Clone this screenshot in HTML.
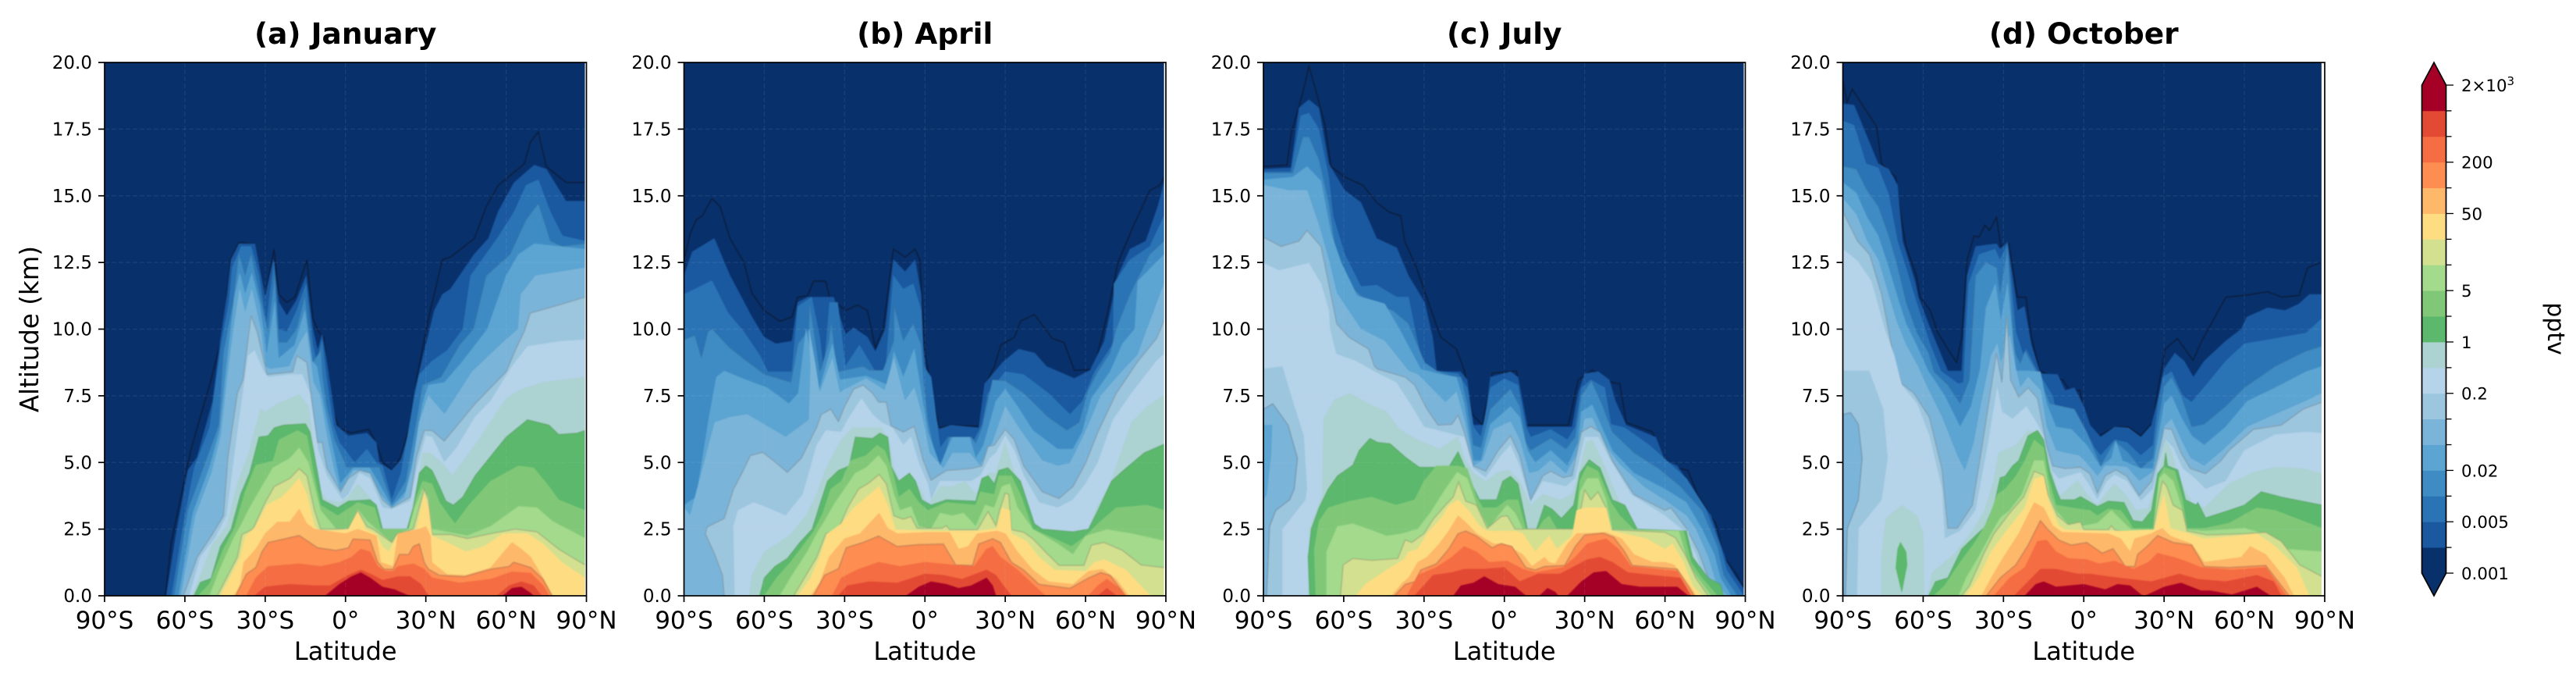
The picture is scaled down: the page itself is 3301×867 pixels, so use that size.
<!DOCTYPE html>
<html lang="en">
<head>
<meta charset="utf-8">
<title>Monthly zonal mean mixing ratio cross-sections</title>
<style>
html,body{margin:0;padding:0;background:#fff;width:3301px;height:867px;overflow:hidden}
svg{display:block}
text{font-family:"DejaVu Sans","Liberation Sans",sans-serif;fill:#000}
</style>
</head>
<body>
<svg id="figure" xmlns="http://www.w3.org/2000/svg" width="3301" height="867" viewBox="0 0 3301 867"></svg>
<script>
const levelColors = ['#08306b','#1a589f','#2a74b5','#3f8cc5','#5ca4d1','#7bb4d9','#9cc6de','#b5d3e9','#acd2d2','#5cb86c','#80c878','#a3da8b','#d3e08f','#fedc82','#fdb869','#fd8d50','#f46d43','#e34a33','#a50026'];
const panelTitles = ['(a) January','(b) April','(c) July','(d) October'];
const latTicks = [-90,-60,-30,0,30,60,90];
const latLabels = ['90°S','60°S','30°S','0°','30°N','60°N','90°N'];
const altTicks = [0,2.5,5,7.5,10,12.5,15,17.5,20];
const altLabels = ['0.0','2.5','5.0','7.5','10.0','12.5','15.0','17.5','20.0'];
const barLevelCount = 20;
const barLabelIndex = [0,2,4,7,9,11,14,16,19];
const barLabels = ['0.001','0.005','0.02','0.2','1','5','50','200','2×10'];
const dataRightLat = [89.4,89.3,89.4,88.8];

const januaryContours = [
[0,[-67.3,0,-65.1,2,-57.7,5.5,-50.2,8.1,-45.7,9.9,-43,12.6,-39.8,13.25,-33.8,13.2,-30,11.2,-26.7,13,-24.9,11.3,-21.9,11,-18.9,11.2,-14.4,12.6,-12.2,10.4,-10,9.9,-8.2,9.7,-4.8,7,-2.5,6.3,2,6.1,8.7,6.25,11.6,5.7,13.9,5,17.6,4.7,20.6,5.2,24.3,6.5,26.5,8.1,31,10.4,36.2,12.6,39.2,12.7,48.1,13.4,52.6,14.6,57.1,15.4,66.8,16.2,69,17,72,17.4,75,16.1,82.4,15.5,89.5,15.5]],
[1,[-66.9,0,-63.5,2.2,-58.9,4.7,-55.4,5.2,-49.6,7.3,-46.7,9.6,-44.2,11.3,-42.8,12.6,-39.8,13.2,-33.8,13.2,-30,11.2,-27,12.6,-24.9,11,-21.9,10.5,-18.2,11.1,-14.7,12,-12.2,10,-10.4,9.2,-8.7,9.8,-7,8.8,-3.5,6.4,1.1,6,8,6.1,11.5,5.75,12.6,5,17.3,4.7,20.7,5.1,23.6,6.1,25.9,7.7,31,9.8,33.2,10.7,36.2,11.3,39.2,11.5,48,12.8,53.4,13.4,57,14.4,63,15.5,70.5,16.15,75,16,82.4,14.8,89.5,14.8]],
[2,[-65,0,-60,3,-56.5,4.8,-50.8,6.3,-46.2,9.6,-43.5,11,-42.3,12.3,-39,13.1,-35.3,13.1,-32.3,12,-29.6,10.2,-26.7,12.5,-25,10,-21.9,9.9,-18.2,10.7,-14.7,11.7,-12.2,9.4,-10.7,8.75,-8.8,9.6,-7,8.1,-4.6,6.4,-2.3,5.75,3.4,5,8,5.5,11.5,5,13.8,4.87,17.3,3.6,20.7,4.6,23,5.9,25.3,7.2,27.6,8.3,32.3,8.8,38,9.2,43.8,10,46.7,12,57,13.45,63,14.4,67.5,15.4,72,15.6,76.5,14.4,81,13.5,89.5,13.3]],
[3,[-64,0,-58.9,3.2,-52,5.1,-47.3,6.4,-45.6,9.1,-42,11,-39.8,12.8,-37.5,12,-35.3,12.8,-30.8,10.7,-29,9.9,-26.4,12,-25,9.5,-21.9,9.5,-18.2,10,-15.2,11.2,-12.2,8.75,-9.2,9.2,-8.7,8.3,-7,7.1,-4.1,5.85,-.6,5.07,0,4.82,12.6,4.82,17.3,3.45,22.5,4.3,25.3,5.85,28.8,7.9,35.7,8.2,42.6,9.4,47.8,10,52.6,12,61.5,12.8,67.5,14.1,72,14.7,76.5,13.3,81,13.1,89.5,13.2]],
[4,[-62.3,0,-57,3.1,-50.5,4.9,-47,6.2,-44,9,-41.5,11.2,-39.5,12.1,-37.5,11.3,-35,12.1,-32,10.9,-30.6,9.9,-29.5,9,-26.4,11,-25,8.9,-19,9.4,-15.2,10.7,-12.5,8.8,-10.7,8.6,-9.3,7.8,-7,6.6,-4,5.2,-2,4.2,3,4.8,9,4.8,12,4.3,17.3,3.35,22.5,3.9,25.3,5.15,28.8,7.2,31,7.9,37,8,43.8,8.8,53,10,60,12,64.6,12.8,70.5,13.2,89.5,13]],
[5,[-61.5,0,-56,3,-50,4.6,-46.5,6,-43.5,8.7,-41.5,10.2,-39.5,11.5,-37.5,10.6,-35,11.5,-31.5,9.9,-30,8.6,-28,8.5,-21,8.6,-17,9.5,-14.5,9.9,-12,8,-9.5,7.5,-7,6,-4.5,4.8,-2,3.9,1,4.4,3,4.7,6,4.7,10,4.4,13,3.8,17.3,3.3,22,3.7,25,4.8,27.5,6.5,31,7.5,37,6.8,47.3,8.4,58.8,9.5,64.5,10,65.5,11.3,71,12,89.5,12.3]],
[6,[-60.5,0,-55.4,1.45,-49.6,2.33,-45.6,3,-43.9,5.2,-40.4,7.6,-38.3,8.1,-35.3,10.5,-33,9.9,-29.3,8.3,-19.7,8.4,-18.2,9,-14.4,8.75,-13.9,8.3,-11.6,6.6,-10.4,5.75,-8.7,5.75,-7,4.8,-1.8,3.9,1.1,4.4,5.2,4.7,9.2,4.6,13.8,3.6,17.3,3.3,24.2,3.7,26.5,5.2,29.4,6.2,32.3,6.2,36.9,5.8,48.4,7.2,60,8.4,63.4,9.2,66.9,9.95,69,10.6,79.5,10.9,89.5,11.2]],
[7,[-58.3,0,-54.2,1.45,-48.5,2.2,-44.4,3,-40.4,6.1,-36.4,9,-34,9.2,-30.6,8.4,-28.9,8.2,-20,8.3,-16.2,8.3,-13.3,7.6,-10.4,5.5,-7,4.5,-1.2,3.6,1.1,3.8,5.2,4.6,9.2,4.4,13.8,3.3,17.3,3.25,24.2,3.55,27,4.9,30,6,32.3,5.95,36.9,5,41.5,5.55,48.4,6.7,54.2,7.3,62.2,8.6,68,9.35,80.7,9.55,89.5,9.6]],
[8,[-57.2,0,-49.6,1.95,-44.4,2.6,-40.4,4.2,-35.8,5.45,-31.8,7,-30,6.9,-25.4,7.2,-17.3,7.55,-13.9,7.1,-11.6,5.45,-9.8,4,-7,3.6,-2.3,3.5,1.1,3.7,4.6,4.2,8,3.8,12.6,3.2,13.8,2.5,23,2.5,26.5,4,28.8,5.35,31.7,5.35,36.9,4.9,39.8,4.5,48.4,5.65,60,7.4,64.6,7.7,73.8,8,89.5,8.2]],
[9,[-56.6,0,-54.2,.5,-50.2,.65,-46.7,1.85,-42.7,2.5,-39.2,3.8,-35.8,4.6,-32.3,5.95,-28.9,6,-26.6,6.3,-23.1,6.4,-15,6.45,-13.3,6.15,-10.4,4.6,-8.7,3.6,-2.9,3.3,1.1,3.55,9.2,3.6,11.5,3.4,13.8,2.5,23,2.5,25.3,3.3,27.6,4.6,30,4.87,32.3,4.7,35.1,4.1,37.5,3.55,40.3,3.4,43.8,3.7,48.4,4.5,60,5.95,68,6.6,76,6.4,79.6,6.05,86.5,6.1,89.5,6.2]],
[10,[-55,0,-50.8,.45,-45.6,1.75,-41.6,2.5,-37.5,3.9,-33.5,4.9,-27.1,5.05,-24.8,5.85,-17.9,6.2,-14.4,6,-12.1,4.7,-9.3,3.4,-2.9,3,4.6,3.5,10.9,3.3,13.2,2.5,23.6,2.5,26.5,3.7,28.8,4.3,32.3,4.2,35.1,3.5,38.6,3,40.9,2.7,46.1,3.4,54.2,4.3,64.6,4.87,70.3,4.8,76,4.1,79.6,3.6,89.5,3.2]],
[11,[-50.8,0,-46.7,1.05,-41.6,2.2,-39.3,2.6,-35.8,3.3,-31.2,4.1,-27.1,4.8,-20.8,5.15,-17.3,5.55,-13.9,5,-11.6,4.1,-9.3,3.2,-3.5,2.5,1.1,2.5,4.6,3.25,8,2.8,11.5,2.5,17.3,2,19.6,2.3,23.6,2.5,25.9,3.3,28.8,4,31,3.7,32.3,2.5,45.5,2.25,54.2,2.6,64.6,3.35,71.5,3.3,77.2,2.8,89.5,2.15]],
[12,[-47.9,0,-43.9,.77,-40.4,1.45,-38.7,2.3,-34.6,2.5,-30,3.5,-26.6,4.1,-20.8,4.4,-17.3,4.77,-14.4,4.5,-11.6,3.2,-9.3,2.5,1.1,2.5,4.6,3.2,8,2.6,10.3,2.5,17.3,2,19,2.3,25.3,2.5,29.4,4,31,3.6,32.3,2.3,39.2,2.3,45.5,2.15,54.2,2.33,63.4,2.5,71.5,2.4,79.6,1.75,89.5,1.15]],
[13,[-46.7,0,-42.7,.77,-39.3,1.45,-37.5,2.2,-33.5,2.6,-29.4,3.4,-23.7,3.7,-20.8,4,-17.3,4.4,-14.4,3.8,-11.6,2.6,-9.3,2.4,1.1,2.5,4.6,3.15,7.5,2.5,11.5,2.3,13.8,1.85,16.1,1.65,19.6,2.3,26.5,2.5,29.4,3.8,31,3.3,32.3,2.25,38,2,45,1.65,51.9,1.85,58.8,2.33,68,2.33,73.8,1.95,80.7,1.26,89.5,.67]],
[14,[-41.6,0,-39.3,.4,-38,1.25,-33.5,1.75,-30,2.33,-25.4,2.77,-20.8,2.77,-17.3,3.25,-14.4,2.7,-11.6,2.5,0,2.33,4.6,2.5,11.5,2.25,13.2,1.25,17.8,1.1,19.6,2.33,27.6,2.5,30,2.6,31.7,2.25,32.3,1.25,38,.8,45,.77,54.2,1.05,60,1.75,62.2,2,65.7,1.75,69.2,1.45,73.8,.67,77.2,0]],
[15,[-41,0,-37,.82,-33.5,1.06,-31.2,1.65,-28.9,2,-23.1,2.13,-17.3,2.26,-10.4,1.8,-3.5,1.7,1.1,1.8,2.8,2.13,9.2,2.09,12,1.26,14.4,1,17.8,1,20.1,1.55,23.6,1.55,25.3,1.85,27.6,1.95,29.4,1.26,31,1,35.1,.77,44.4,.72,54.2,1,61.1,1.1,62.8,1.26,69.2,1.06,73.8,.62,77.2,0]],
[16,[-37,0,-33.5,.67,-28.9,1.1,-17.3,1.2,-9.3,1.1,-2.3,1.25,2.3,1.45,5.7,1.75,9.2,1.65,12,1.1,15,.92,17.8,.92,19.6,1.1,25.3,1.2,29.4,1,32.3,.67,42.6,.48,54.2,.62,62.2,.9,69.2,.85,73.8,.38,76.1,0]],
[17,[-34,0,-30,.33,-20.8,.43,-11.6,.38,-5.8,.38,1.1,.77,5.7,.97,10.3,.77,13.8,.58,19.6,.72,24.2,.72,28.2,.43,31,0]],
[17,[56.5,0,61.1,.38,65.7,.53,70.3,.38,73.2,0]],
[18,[-7.5,0,-2.3,.43,2.3,.72,5.7,.87,9.2,.67,13.8,.33,18.4,.23,23.6,0]],
[18,[58.8,0,62.2,.28,65.7,.33,68.6,.14,70.3,0]]
];

const aprilContours = [
[0,[-90,12.6,-87.6,13.6,-85.4,14.1,-83.2,14.25,-79.5,14.9,-76.5,14.6,-72.8,13.4,-67.6,12.5,-64.6,11.35,-60.1,10.7,-54.2,10.3,-49.7,10.45,-47.5,11.2,-43.8,11.25,-41.6,11.8,-37.1,11.8,-35.6,11.2,-29.7,10.7,-25.2,10.9,-21.5,10.7,-18.5,9.3,-15.6,10,-11.8,13,-7.4,12.7,-3.7,13,-1.9,12.6,0,9.1,2.3,7.8,5.2,6.3,9.7,6.4,20.1,6.35,23,8,26,8.6,28.3,9.4,33.5,9.7,35.7,10.3,40.9,10.55,47.6,9.65,52,9.5,55.8,8.45,63.2,8.5,68.4,10.7,72.1,12.5,78,13.9,84,15.2,87.7,15.4,89.4,15.7]],
[1,[-90,12,-86.9,12.9,-78.7,13.4,-72.8,12,-64.6,10.45,-60.1,9.7,-55.7,9.45,-49.7,9.55,-47.5,11,-43.8,11.2,-41.6,11.2,-38.6,11.2,-34.1,11.2,-29.7,9.8,-26.7,10.05,-21.5,9.7,-18.5,9.15,-14.8,10,-11.8,12.6,-7.4,12.15,-3.7,12.6,-1.4,11.3,-.7,9.4,.8,8.1,5.2,6.25,9.7,6.4,20.1,6.3,22.3,7.95,29,8.75,35,9.25,41,9.1,45.4,8.6,55.8,8.15,61.7,8.45,67,9.55,72.1,12,76.6,13,82.5,13.3,87,14.6,89.4,15.5]],
[2,[-90,11.3,-80,11.8,-79.5,11.8,-73.5,10.6,-67.6,9.9,-61.6,9,-58.7,8.4,-49.7,8.4,-47.5,10.85,-42.3,11.2,-39.3,9.7,-37.8,8.4,-35.6,11,-32.6,11,-29.7,8.6,-24.5,9.4,-18.5,8.4,-14.8,8.4,-11.8,12,-8.1,11.5,-4.4,11.7,-1.4,10.7,-.4,8.6,2.3,8.2,5.7,5.55,8.6,5.95,18.4,5.85,21.3,6.4,23.6,7.6,30,8.4,36.9,8.3,46.1,7.6,54.2,6.8,58.8,7.3,63.4,8.4,70.3,9.45,70.6,11.7,76.6,12.6,84,13.1,89.4,14.25]],
[3,[-90,9.6,-86,9.75,-83.5,8.9,-81,9.9,-79.5,10,-73,9.3,-68,8.9,-60,8.3,-50,8,-47.3,9.45,-43.3,10,-43,10.85,-40.8,9.4,-39.3,8.4,-38.7,8.5,-35.8,9.55,-35,10.2,-33.4,8.9,-32.3,8.4,-23.1,8.6,-20.8,8.45,-15.6,8.45,-11.6,9.55,-11.4,10.8,-8.1,9.55,-4.4,10.2,-1.4,9.4,-.6,8.1,1.1,6.6,4.6,4.87,6.9,4.97,9.2,5.95,17.3,5.95,19,5.7,21.3,6.3,25.3,8.1,30,8.05,36.9,7.6,46,6.7,53,6.2,57.6,6.5,61,7.7,64.6,8.4,69.2,9.1,71.5,10,76.6,11.3,84,12.8,89.4,13.3]],
[4,[-90,3.4,-85.4,3.7,-80.8,6.6,-77.9,8.2,-75,8.43,-66.9,8.1,-58.9,7.8,-50.8,7.2,-47.3,7.6,-44.4,10,-39.8,7.6,-34.6,9.45,-31.8,8.1,-22,8.24,-13.9,7.9,-11.6,9.15,-8.1,8.2,-4,9.25,-1.2,7.5,1.1,6.15,5.7,4.87,8,5.45,10.3,5.95,16.7,5.95,19,5.16,21.9,5.65,26.5,7.3,30,7.75,34.6,7.1,40.3,6.2,49.6,5.5,55.3,5.5,58.8,6.15,62.2,7.4,69.2,8.4,73.8,9.45,78.4,10,79.5,11.8,89.4,12.8]],
[5,[-90,3.3,-87.7,3,-78.5,6.5,-72.7,6.7,-66.4,6.8,-52,5.95,-43.3,6.6,-42.7,8.6,-43.3,10,-41,8.7,-39.3,7.6,-34.6,8.9,-31.8,7.6,-30.6,7.7,-22,8.15,-15,7.7,-11.6,8.9,-7.5,7.3,-4,7.8,-1.2,6.8,1.7,5.35,6.9,4.77,10.3,5.35,16.7,5.35,20.7,4.87,25.3,5.75,30,7.1,35.7,6.2,43.8,5.07,49.6,4.87,54.2,4.97,60,6.15,65.7,7.5,72.6,8.3,79.6,9.05,83,10,89.4,11.7]],
[6,[-75,0,-75.6,.77,-78.5,1.55,-82,2.33,-81.3,2.58,-75,2.9,-71.5,4,-68,4.67,-65.2,5.26,-60.6,5.38,-56.6,5.07,-51.4,4.63,-46.2,5.16,-40.4,6.33,-38.7,6.8,-35.2,7,-32.3,6.53,-30,7.1,-26.6,7.75,-23.1,7.9,-19.6,7.6,-17.3,7.26,-14.4,7.26,-12.7,6.38,-8.1,6.14,-4,6.35,-.6,5.07,2.3,4.33,8,4.7,17.3,4.77,21.3,4.87,23.6,5.6,25.9,5.65,30,6.24,33.4,5.85,36.9,4.87,43.8,3.9,50.1,3.65,55.3,4.1,60,4.97,64.6,6.14,71.5,7.6,79.6,8.8,86.5,9.65,89.7,10.4]],
[7,[-71,0,-71.5,2.6,-69.8,3.2,-64,3.5,-58.9,3.3,-52,3,-45.6,3.8,-40.4,5.65,-37,6.2,-31.2,6.14,-28.9,6.6,-23.7,7.4,-19.6,6.8,-16.2,6.5,-12.1,6.3,-8.1,5.65,-5.2,5.95,-2.3,4.97,1.1,4.2,2.3,3.6,5.7,4.3,17.3,4.3,20.7,4.5,24.2,5.16,26.5,5.36,30,6,33.4,5.45,36.9,4.5,42.6,3.5,49.6,3.3,55.3,3.6,60,4.2,64.6,5,70.3,6.6,77.2,7.6,86.5,8.8,89.7,9.1]],
[8,[-65.6,0,-64.6,.77,-60,1.65,-50.8,2.24,-44.4,3,-40.4,3.8,-37,4.77,-31.2,5.85,-27.1,6.3,-16.2,6.3,-13.3,5.75,-11.6,4.77,-9.3,4.3,-2.3,4.1,1.1,3.4,5.7,4.1,10.3,4.1,15,4.3,19,3.8,23.6,4.6,26.5,4.6,30,5.75,32.8,4.77,36.3,4.1,40.3,2.6,42.6,2.4,60.5,2.4,64.6,3.4,69.2,4.2,77.2,6.5,83,7.1,89.7,7.55]],
[9,[-61.7,0,-60,.67,-56,1.1,-51.4,1.4,-46.7,2,-42.1,2.5,-39.3,3.4,-36.4,4.3,-32.3,4.7,-28.3,4.87,-26,5.95,-19.6,5.9,-16.8,6.1,-13.9,5.95,-12.7,4.87,-9.8,4.3,-5.8,4.6,-3.5,4.3,-1.2,3.6,2.3,3.4,8,3.6,19,3.55,21.3,4.4,23.6,4.5,25.9,4.2,27.6,4.7,31,4.8,35.7,4.3,40.9,2.7,43.8,2.5,55.3,2.4,61.1,2.5,64.6,3.2,69.7,4.3,73.8,4.67,81.9,5.36,89.7,5.7]],
[10,[-60,0,-55.4,.67,-50.2,1.26,-45,1.95,-41.6,2.4,-38.1,3.1,-35.2,4,-31.2,4.3,-27.7,5.07,-22,5.26,-17.9,5.65,-15,5.45,-12.1,4.67,-9.8,3.7,-5.8,4,-2.3,3.5,1.1,3.2,8,3.5,19,3.4,20.7,3.9,25.9,3.8,27.6,4.5,32.3,4.5,35.7,3.8,40.3,2.5,48.4,2.14,54.8,1.85,60,2.24,65.7,2.8,71.5,3.3,83,3.4,89.7,3.2]],
[11,[-54.2,0,-49.6,.77,-43.9,1.65,-40.4,2.33,-37.5,2.8,-33.5,3.5,-30,4,-26,4.6,-22,4.8,-17.3,5.26,-14.4,4.87,-11.6,3.8,-9.3,3.2,-5.2,3.35,-2.3,2.6,2.3,2.5,5.7,3.1,10.3,3,14.4,3.1,19,2.6,22.5,3.4,25.9,3.3,28.8,4.1,31.7,4.2,34.6,3.3,40.3,2.5,49.6,1.95,55.3,1.55,60,2.24,68,2.48,77.2,2.33,89.7,2.05]],
[12,[-49,0,-44.4,.77,-40.4,1.45,-37,2.33,-32.3,2.5,-28.9,3.3,-24.8,4,-20.8,4.24,-17.1,4.55,-14.4,4.2,-11.6,3,-8.1,2.87,-5.2,2.97,-2.9,2.53,6.3,2.53,8,2.63,9.2,2.48,19.6,2.48,23.6,3.16,26.5,2.63,27.6,3.1,30,3.85,31.3,3.8,32.3,2.48,36.9,2.38,40.3,2.14,45,1.65,50.1,1.14,59.4,1.14,62.2,1.9,66.9,2,73.8,1.7,80.7,1.16,89.7,1.05]],
[13,[-47.3,0,-42.7,.67,-39.3,1.45,-36.4,2.33,-31.2,2.7,-26.6,3.3,-17.1,4.1,-13.9,3.4,-11,2.48,2.3,2.43,19.6,2.43,27,2.53,28.8,3.3,31.7,3.2,32.3,2.33,38,2.04,42.6,1.45,48.4,.97,60,.92,63.4,1.26,66.9,1.36,75,.97,79.6,.48,84.2,0]],
[14,[-42.7,0,-39.3,.48,-35.8,1.45,-30,2.14,-24.3,2.33,-17.1,3.1,-13.9,2.53,-10.4,2.33,1.1,2.38,9.2,2.38,12.6,1.75,16.1,1.85,19.6,2.33,27,2.43,30,2.33,34.6,1.65,40.3,.97,46.1,.53,55.3,.43,61.1,.92,66.3,1,71.5,.62,76.1,0]],
[15,[-41.6,0,-37.5,.77,-32.3,1.02,-29.4,1.8,-23.1,2,-17.3,2.24,-10.4,1.85,-2.3,1.92,6.9,1.94,11.5,1.16,17.8,1.14,20.1,1.94,25.3,2.14,28.2,2,32.3,1.26,36.9,.97,42.6,.43,54.2,.28,61.1,.67,65.7,.87,69.2,.77,75,0]],
[16,[-34.6,0,-31.2,.67,-25.4,.97,-17.3,1.26,-9.3,1.1,0,1.26,10.3,1.16,18.4,1.1,23,1.75,25.3,1.85,28.2,1.45,34.6,.97,40.3,.43,45,0]],
[16,[61.1,0,64.6,.38,68,.62,72.6,.28,75,0]],
[17,[-32.3,0,-28.9,.38,-20.8,.53,-10.4,.48,0,.82,6.9,.77,13.8,.62,23,.97,26.5,.77,30,.28,32.3,0]],
[17,[64.6,0,68,.28,71.5,0]],
[18,[-7,0,-2.3,.33,2.3,.53,8,.43,12.6,.28,17.3,.38,23,.67,25.3,.38,26.5,0]]
];

const julyContours = [
[0,[-90,16.1,-81.2,16.15,-79.7,17.3,-75.2,18.9,-73,19.85,-70.8,19.1,-67,17.65,-64.8,16.1,-59.6,15.7,-52.9,15.4,-47.7,14.75,-43.2,14.4,-38.7,14.25,-37.2,13.3,-32.8,12.3,-26.8,10.55,-23.8,9.7,-17.9,9.25,-14.9,8.43,-11.9,6.8,-8.2,6.4,-4.5,8.35,4.5,8.43,8.2,6.4,23.9,6.4,27.6,8.1,32.8,8.46,40.3,8,43.2,7.95,45.5,6.5,55.2,6.15,61.1,4.87,68.6,4.7,72.3,3.75,79,2.7,82,1.47,86.5,.83,89.4,.34]],
[1,[-90,16,-79.7,16.05,-76.7,18.3,-73,18.6,-69.3,18.3,-65.6,16.2,-59.6,15.2,-53.6,14.75,-47.7,13.4,-40.2,13.05,-35.8,12,-29.8,11,-26.8,9.7,-25.3,8.4,-16.4,8.4,-13.9,8.1,-11.6,6.4,-7.5,6.4,-5.2,8.2,2.3,8.4,5.1,8.2,8.6,6.33,25.3,6.33,27.6,7.6,30,8.33,35.1,8.4,39.2,8.1,41.5,7.3,45.5,6.4,56.5,5.95,60,5.07,64.6,4.87,71.5,3.8,77.2,3,83,1.26,86.5,.67,89.9,.19,89.9,0]],
[2,[-90,15.9,-79.7,15.9,-76,18,-73,18.1,-69.3,17.5,-65.6,15.7,-64,14.25,-59.6,12.8,-53.6,11.6,-47.7,11.65,-40.2,11.2,-35.8,11.2,-32.8,9.7,-30,8.5,-17.3,8.33,-13.9,7.8,-11.6,6.33,-8.7,5.95,-5.2,7.8,0,8.14,5.1,7.9,8,6.33,9.8,5.95,17.3,6.24,23.6,5.85,26.5,6.33,28.8,7.8,32.3,8.1,37.5,7.8,39.8,6.43,45,6.3,54.2,5.65,68,4.4,75,3.3,80.7,1.85,83,.97,89.4,0]],
[3,[-90,15.85,-79,15.85,-75.2,17.2,-73,17.2,-69.3,16.35,-65.6,14.75,-63.3,13.1,-58.1,11.65,-50.7,11,-41.7,10.7,-35.8,10.2,-29.8,8.75,-25.3,8.43,-19.6,8.24,-16.2,8.2,-13.9,7.2,-11.6,5.65,-8.7,5.55,-5.2,7,2.3,7.75,5.7,7.1,8,5.75,9.8,5.45,17.3,5.9,23,5.5,26.5,5.95,28.8,7.5,32.5,8.05,36.3,7.2,40.3,6.14,48.4,5.36,57.6,4.77,65.7,4.1,73.8,3.2,79.6,1.85,81.9,.77,87,0]],
[4,[-90,15.6,-79,15.7,-73.7,16.1,-68.5,15.55,-64.8,13.6,-61,12.5,-55,11.25,-44.7,10.95,-38.7,9.9,-31.3,8.5,-23.7,8.3,-17.9,8.2,-15,7.2,-11.6,5.07,-8.7,5.07,-5.2,6.43,2.3,7.1,5.7,6.7,8.6,5.45,11.5,5,17.3,5.45,23.6,4.87,27.6,5.75,28.8,6.9,32.8,7.16,36.3,6.33,40.3,5.45,48.4,4.6,60,4,68,3.5,73.8,2.5,78.4,1.55,80.7,.67,84.7,0]],
[5,[-90,15.4,-80.5,15.2,-73.7,15.2,-69.3,13.9,-65.6,12.6,-62.6,11.35,-53.6,10,-44.7,9.55,-35.8,8.43,-32.3,8.3,-22,7.25,-17.9,7.65,-15,6.6,-11.6,4.87,-8.1,5.07,-4,6.24,2.3,6.53,5.7,5.85,9.2,4.6,12.6,4.67,17.3,5.07,23,4.57,27.6,5.36,30,6.63,32.8,6.67,36.9,5.75,42.6,4.97,51.9,4.1,61.1,3.5,68,3,71.5,2.5,76.1,1.45,79,.48,83,0]],
[6,[-90,13.45,-83.4,13.1,-76.7,13.3,-73.7,13.7,-68.5,13.1,-65.6,11.7,-62.6,10.2,-58.1,9.7,-50.7,9.25,-48.5,8.6,-47.3,8.5,-37,8.2,-33.5,7.9,-28.9,7,-24.8,6.4,-19.6,6.43,-17.3,6.77,-15,6.14,-11.6,4.87,-7,4.67,-2.3,5.45,2.3,6,5.7,5.26,9.8,3.6,14.4,4.5,17.3,4.67,21.9,4.43,25.3,4.5,28.8,6.14,32.3,6.35,35.7,6.14,40.3,5.07,48.4,3.8,60,3.2,62.2,3.3,68,2.53,72.6,1.65,76.1,.67,80.7,0]],
[7,[-90,12.47,-84.2,12.2,-73,12.47,-68.5,11.7,-65.6,10.7,-65.2,10,-62.9,9.07,-55.4,8.8,-48.5,8.4,-40.4,8,-34.6,7.1,-30,6.33,-15,5.95,-11.6,4.77,-7,4.43,-1.2,5.26,2.3,5.65,5.7,4.87,9.8,3.5,14.4,4.3,23,4.1,26.5,4.4,30,5.95,35.1,5.95,39.2,5.16,47.3,3.8,60,3,66.9,2.43,71.5,1.55,75,.48,79.6,0]],
[6,[-90,8.5,-83,8.6,-78.5,7.1,-75,6,-73.8,4,-74.4,3.6,-83,2.5,-83,0,-90,0,-90,8.5],0],
[5,[-90,7,-86.5,7.2,-80.8,6.4,-77.3,5.16,-78.5,4,-80.2,3.6,-85.4,3.2,-87.7,2.6,-88.8,0,-90,0,-90,7],1],
[4,[-88.8,6.4,-86.8,6.4,-87.1,5.35,-88.8,3.8,-90,3.6,-90,6.4,-88.8,6.4],0],
[8,[-73.3,0,-72.7,2.5,-68,3.8,-67.5,6.63,-63.5,7.35,-57.7,7.6,-50.8,7.2,-43.9,6.9,-39.3,6.24,-32.3,5.85,-24.3,5.5,-17.3,5.96,-15,5.16,-11.6,4.6,-7,4.3,-2.3,4.63,1.7,4.72,5.7,4.3,9.8,3.4,14.4,3.8,20.7,3.6,25.3,3.8,27.6,4.5,30.6,5.75,32.8,5.85,36.9,4.97,42.6,3.6,48.4,2.77,50.1,2.5,68.6,2.43,70.3,1.65,73.8,.87,81.9,0]],
[9,[-72.7,0,-73.3,1.45,-72.1,2.5,-69.2,3.3,-65.8,4,-62.3,4.5,-56.6,4.9,-54.2,5.45,-50.2,5.9,-47.3,5.75,-42.7,5.7,-37,5.2,-31.8,4.82,-20.8,4.82,-17.3,5.4,-15,4.87,-12.7,4.3,-9.3,3.6,-2.9,3.6,-.6,4.3,2.3,4.48,5.1,4.2,8.6,2.5,12,2.5,15,3.4,17.8,3.25,21.3,2.9,25.9,3.4,28.2,4.6,31.7,5.1,35.7,4.8,40.3,3.6,45,3.4,49.6,2.5,68,2.43,70.3,1.45,76.1,.67,80.7,.43,81.9,0]],
[10,[-70.4,0,-71,1.75,-69.2,2.8,-65.8,3.3,-57.7,3.55,-49.6,3.7,-40.4,3.4,-33.5,3.6,-30,4.3,-25.4,4.87,-17.3,4.87,-13.9,4.77,-10.4,3.7,-8.1,3.3,-2.9,3.3,1.1,3.6,5.1,3.6,8,2.5,12.6,2.5,14.4,2.8,16.7,3,19.6,2.5,26.5,2.5,28.2,4.3,31,4.87,35,4.67,39.8,3.5,43.2,3,48.4,2.48,66.9,2.43,69.7,1.26,73.8,.67,79.6,0]],
[11,[-66.4,0,-66.4,1.65,-62.3,2.6,-56.6,2.7,-50.8,2.5,-43.9,2.24,-38.1,2.33,-32.3,2.5,-27.7,3.1,-22,4,-17.6,4.63,-13.9,4.4,-10.4,3.4,-5.8,2.5,-2.3,3,1.1,3.4,4,3.1,6.9,2.5,26.5,2.5,28.2,3.9,31,4.4,35,4.4,38,3.6,40.3,2.48,65.1,2.43,68.6,1.26,71.5,.77,77.2,0]],
[12,[-61.2,0,-60.2,1.16,-56.6,1.4,-49.6,1.33,-39.8,1.4,-37,2.1,-34.6,2,-30,2.33,-26.6,2.87,-22,3.4,-19.1,3.7,-17.1,4.27,-14.4,3.55,-10.4,3.4,-6.4,2.53,-1.2,2.97,1.1,3,4,2.5,27,2.5,30,3.97,32.3,3.6,35,3.9,38,3.3,39.8,2.48,60,2.38,64,2.17,68,1.45,71.5,.67,76.1,0]],
[13,[-55.4,0,-51.9,.43,-43.9,.97,-37.5,1.36,-35.8,1.65,-32.3,1.75,-28.9,2.33,-23.1,2.97,-20.8,3.37,-17.3,3.6,-13.3,3.2,-9.3,2.63,-6.4,2.43,4,2.43,6.9,2.33,11.5,1.65,16.7,2.24,19.6,1.75,25.3,2.24,27,3.2,30,3.3,38,3.3,40.1,2.43,53,2.14,60,1.75,62.8,1.95,66.9,1.26,70.3,.38,73.8,0]],
[14,[-42.1,0,-38.1,.48,-35.8,.67,-32.3,1.26,-28.9,1.45,-24.3,1.95,-20.8,2.43,-17.3,3,-13.9,2.7,-10.4,2.33,-4,1.95,0,1.95,6.9,1.55,10.3,1.1,15,1.45,16.7,1.26,19,1.2,23.6,1.95,27,2.33,38,2.38,43.8,2.14,48.4,1.55,55.3,1.26,60,1.26,63.4,1.16,69.2,.38,71.5,0]],
[15,[-41,0,-37,.43,-33.5,.53,-31.2,.97,-25.4,1.2,-20.8,1.75,-17.3,2.33,-14.4,2.43,-10.4,2.24,-4.6,1.8,-1.2,1.96,2.8,1.85,8,1.06,11.5,.97,15,1.1,22.5,1.14,26.5,1.85,30,2.28,36.9,2.35,40.9,2.19,45,1.65,47.8,1.14,64.6,1,69.2,.28,70.9,0]],
[16,[-36.4,0,-32.3,.77,-25.4,1.06,-19.6,1.45,-15,1.85,-10.4,1.65,-5.8,1.26,1.1,1.3,6.9,1,11.5,.87,21.9,1.06,26.5,1.45,31,1.95,38,2.14,42.6,1.75,47.3,1.1,64.6,.92,69.7,0]],
[17,[-33.5,0,-26.6,.77,-19.6,.87,-15,1,-8.1,1,0,1.06,5.7,.53,12.6,.82,20.7,.82,31,1.36,35.7,1.45,40.3,1.26,46.1,.87,55.3,.77,65.7,.67,69.7,0]],
[18,[-19,0,-16.2,.38,-11.6,.48,-7.5,.72,-2.3,.43,4,.33,8,0]],
[18,[13.2,0,16.1,.28,19,.14,20.1,0]],
[18,[23.6,0,28.8,.53,33.4,.87,38,.92,43.8,.43,50.7,.33,64.6,.33,68.6,0]]
];

const octoberContours = [
[0,[-90,19.3,-88.4,18.5,-86.5,19,-82,18.3,-77.4,17.6,-75.5,16.2,-70.3,15.7,-68.3,14.25,-66.4,13.1,-62.5,12,-61.2,11.2,-57.3,10.7,-54.7,9.9,-50.8,9.25,-47.5,8.75,-45.6,9.7,-43.6,12.6,-41,13.5,-39.1,13.45,-36.9,13.9,-35.2,13.7,-32.6,14.2,-31,13.1,-28,13.2,-24.8,11.2,-21.6,11.2,-19.6,9.7,-16.4,8.43,-12.5,8.27,-7.9,8.1,-5.3,7.7,-1.4,7.7,.5,6.5,5.7,6,11.6,6.33,16.7,6.33,21.3,6,25.8,6.5,27.8,7.8,30.4,9.25,35,9.65,40.8,8.83,44,9.55,53.1,11.2,59.6,11.26,68.7,11.4,73.9,11.2,80.4,11.26,83.6,12.3,88.4,12.5]],
[1,[-90,18.45,-85.8,18.4,-81.3,17.3,-76.8,16.2,-72.9,16,-69.6,15.4,-67.7,13.3,-63.1,11.8,-61.8,11.2,-57.3,10,-50.8,8.43,-45.6,8.43,-43.6,12,-40.4,13.1,-32.6,13.2,-31.3,13,-28.5,13.25,-24.8,10.7,-22.2,10.85,-19.6,9.4,-16.2,8.33,-9.8,8.3,-7,7.7,-3.5,7.8,0,7.1,2.3,6.4,6.3,5.95,11.5,6.33,16.7,6.3,21.3,5.95,25.3,6.4,28.2,7.6,30,8.5,34,9.1,37.5,8.8,40.9,8.2,45,8.8,53,9.55,58.8,10,60.9,10.45,68.7,10.8,75.2,10.7,80.4,10.95,84.3,11.3,89,11.3]],
[2,[-90,17.8,-85.8,17.65,-81.3,16.2,-76.8,16.05,-72.9,15.05,-69.6,13.3,-66.4,12.3,-62.5,11,-57.3,9.4,-53.4,8.43,-46.9,7.95,-45,8,-43,11.7,-39.1,12.8,-33.2,13,-31.3,12.6,-28.5,13.2,-25.4,9.9,-22.2,8.9,-21.6,9.25,-18.3,8.6,-17.3,8.43,-11.6,7.5,-10.4,6.9,-5.8,7,0,6.33,4,5.55,6.3,5.26,11.5,5.85,16.1,5.75,21.3,5.26,25.9,5.65,27.6,7.1,29.4,8.2,32.8,8.4,36.9,7.5,40.3,7.26,47.3,8.1,53,8.8,60,9.45,71.5,9.65,83,9.85,89,10.4]],
[3,[-90,16.1,-85,16,-81,15.2,-76.8,14.6,-72.9,13.5,-70,12.5,-66.4,11,-62.5,9.9,-58,9.1,-56,8.4,-50.8,7.9,-46.2,7.2,-42.7,8.1,-40.4,12,-36.5,12.5,-32.6,12.3,-31.3,11.3,-28.5,13,-26.1,9.4,-25.4,9.05,-23.7,8.7,-22,9.17,-17.9,8.43,-12.7,7.2,-3.5,7,1.1,6.14,6.3,4.87,11.5,5.8,16.7,5.36,21.3,4.77,25.9,5.16,27.6,6.43,30,7.85,32.8,8.2,36.3,7.5,40.3,6.33,45,6.43,53,7.1,60,7.8,71.5,8.6,83,9.17,89,9.36]],
[4,[-90,15.5,-85,15.1,-81,14.2,-76.8,13.5,-72.9,12.3,-69,11,-66.4,10.2,-62.5,9.4,-58,8.4,-56.6,8.2,-52,7.5,-46.2,6.33,-42.1,7.1,-38.7,8.5,-36.5,10.8,-33,11.7,-31,10.3,-28.5,11.7,-26.5,9.6,-25.4,8.43,-20.8,8.43,-16.2,8.4,-13.9,7.2,-10.4,6.33,-4.6,6.24,1.1,5.65,6.3,4.82,10.3,5.16,12,5.8,14.4,5.07,21.3,4.77,25.9,4.77,27.6,5.75,30,7.2,32.8,7.5,36.3,6.7,40.3,6,45,5.65,53,6.33,61.1,7.3,71.5,7.8,83,8.4,89,8.6]],
[5,[-90,14.9,-85,14.3,-81,13.3,-76.8,12.6,-73,11.3,-70,10.3,-66.4,9.4,-62,8.6,-58.9,7.9,-53,6.7,-47.3,5.26,-44.4,4.67,-41,5.75,-38.1,7.3,-34.6,9,-32.3,9.45,-31,8.7,-28.9,9.45,-27.7,9.75,-25.4,8.5,-23.7,7.8,-20.8,8.2,-16.2,7.7,-13.9,6.33,-10.4,5.45,-7,5.36,-1.8,5.26,1.1,4.97,5.1,4.48,8,4.87,12,4.87,16.1,4.82,20.7,4.3,25.3,4.6,27.6,4.87,30,6.33,32.8,6.63,36.3,5.85,39.8,5.16,45,4.87,51.9,5.45,61.1,6.33,71.5,6.8,83,7.3,89,7.6]],
[6,[-90,14.4,-84.5,13.3,-80,12.8,-75.5,11.3,-70.9,8.9,-68,7.95,-63.5,7.6,-57.7,6.7,-53,4.77,-50.8,2.53,-47.3,2.53,-41.6,3.4,-38.7,5.16,-32.6,9.1,-30.6,8,-28.7,10.5,-27.4,8.1,-24.3,7.45,-20.8,7.8,-17.3,7.4,-13.9,5.65,-11.6,4.87,-7,4.77,-1.2,4.82,2.3,4.58,5.1,3.85,8,4.5,12,4.72,16.1,4.48,20.7,3.75,25.3,4.3,27.6,5.16,30,6.28,32.8,6.24,36.3,5.36,39.8,4.77,45.5,4.58,51.3,5.07,54.2,5.45,63.4,6.24,73.8,6.4,81.9,7,89,7.26]],
[7,[-90,13,-84.5,12.55,-79.4,11.8,-75.5,10.4,-74.4,10,-71,9.07,-68,7.9,-62.3,7.2,-57.7,6,-53,4,-52,2.14,-46.2,2.43,-40.4,3.2,-35.8,5.65,-32.3,7.8,-30.6,6.9,-26.6,6.63,-21.4,7.1,-17.3,6.43,-15,5.95,-12.7,4.77,-9.3,4.38,-1.2,4.63,1.7,4.2,5.1,3.6,8.6,4.3,11.5,4.53,16.1,4.3,21.3,3.55,25.9,4,27.6,4.77,30.6,5.85,33.4,5.55,36.9,4.77,41.5,4.4,45.5,4,53,4.3,60,5.45,71.5,6.04,83,6.14,89,6.1]],
[6,[-90,8.43,-80.2,8.43,-75,7,-73.3,5.16,-75.6,3.6,-84.2,2.53,-84.8,0,-90,0,-90,8.43],0],
[5,[-90,6.8,-87.1,6.87,-84.2,6.43,-82.8,5.16,-84.2,3.6,-88.3,2.53,-89,0,-90,0,-90,6.8],1],
[8,[-75.6,0,-75.6,1.45,-73.9,2.9,-68,3.4,-62.3,3,-60,2.33,-59.6,0]],
[8,[-58.5,0,-56.6,.87,-48.5,1.55,-41.6,2.43,-37,3.2,-33.5,4.38,-31.8,5.36,-25.4,5.65,-20.8,6.2,-16.2,6.14,-13.9,5.36,-11.6,4.58,-9.3,3.7,-2.3,4.33,1.1,3.8,5.1,3.4,8,3.8,11.5,4.2,15.5,3.8,19.6,3.2,24.2,3.3,27,4.2,30.6,5.85,32.5,5.45,35.1,4.58,38,3.9,40.3,3.5,45,3.3,54.2,4.2,63.4,4.63,71.5,4.82,81.9,4.77,89,4.58]],
[9,[-68.5,2,-66.4,1.65,-66,1.16,-68,.14,-70.2,1.06,-69.5,1.75,-68.5,2],0],
[9,[-57.9,0,-55.4,.53,-50.8,.67,-45.6,1.75,-41.6,2.14,-37,2.58,-33.5,3.4,-31.2,4.43,-29.4,4.48,-26.6,4.87,-24.3,5.07,-20.8,6,-17.3,6.2,-15,5.85,-12.7,4.67,-10.4,4,-8.7,3.6,-3.5,3.6,-1.2,3.72,5.1,3.35,9.2,3.55,15,3.5,18.4,2.82,21.9,2.77,25.3,3.2,27.6,4.58,30,4.87,30.6,5.36,31.3,4.87,35.1,4.72,38,3.6,42,3.4,42.6,3.5,45.5,2.92,54.2,3.2,60,3.4,66.3,3.9,73.8,3.7,89,3.4]],
[10,[-56,0,-52,.38,-46.2,1.26,-40.4,2.04,-35.8,2.82,-32.3,3.8,-29.4,4,-25.4,4.48,-22,5.07,-18.5,5.85,-15,5.55,-13.3,4.48,-10.4,3.4,-4.6,3.3,2.3,3.2,5.1,3,9.2,3.26,13.8,3.2,16.7,2.82,18.4,2.53,25.9,2.53,28.2,4.48,30,4.82,34,4.67,36.9,3.6,38.6,2.53,45,2.53,54.2,2.72,64.6,3.3,71.5,3.2,89,2.53]],
[11,[-46.7,0,-43.9,.67,-39.3,1.45,-34.6,2.33,-31.2,2.92,-27.7,3.2,-23.1,3.8,-18.5,5.07,-15,5.07,-12.7,3.8,-10.4,3.2,-5.8,2.67,0,2.63,5.1,2.72,10.3,3.2,16.1,2.63,17.8,2.48,25.9,2.48,28.2,4.4,30,4.6,33.4,4.3,36.3,3.4,38.6,2.48,45,2.43,60,2.53,66.9,2.33,75,1.75,89,1.65]],
[12,[-45.6,0,-42.7,.38,-37,1.65,-33.5,2.33,-27.7,3.1,-22.5,3.7,-18.5,4.67,-15,4.53,-13.3,3.8,-9.8,3,-5.8,2.67,-1.2,2.77,0,2.48,9.2,2.48,10.3,2.63,11.5,2.48,17.3,2.33,25.9,2.48,27.6,3.4,29.4,4.3,31,4.1,33.4,3.4,36.9,3.2,38.6,2.43,46.1,2.28,60,2.33,68,2.38,73.8,2.04,80.7,1.16,89,.72]],
[13,[-43.9,0,-39.3,.67,-34.6,1.65,-28.9,2.43,-22,3.3,-18.5,4.38,-15,4.48,-13.3,3.6,-9.3,2.63,-7,2.48,8,2.43,15,2.43,26.5,2.48,28.2,3.2,30,3.8,32.3,2.53,39.2,2.33,45,2.14,56.5,2.24,64.6,2.33,71.5,1.85,79.6,1.06,84.2,0]],
[14,[-38.1,0,-34.6,.67,-30,1.45,-24.3,2.33,-18.5,3.5,-15,3.3,-11.6,2.63,-8.1,2.38,9.2,2.33,13.8,2.14,17.3,1.65,19,2.14,25.3,2.33,27,2.43,29.4,2.53,32.3,2.24,40.3,1.95,45,1.26,58.8,1.45,62.2,1.85,68,1.55,75,.67,78.4,0]],
[15,[-36.4,0,-31.2,.67,-25.4,1.16,-20.8,1.9,-16.2,2.82,-13.3,2.48,-9.3,2.09,-4.6,1.9,1.1,2,6.9,1.6,10.9,1.77,13.2,1.45,15.5,1.1,19,1.1,20.1,1.55,23.6,1.85,27.6,2.26,33.4,2,40.3,1.9,45,1.1,54.2,1.06,68,1.14,73.8,.38,76.7,0]],
[16,[-33.5,0,-27.7,.67,-22,1.06,-17.3,2.04,-13.9,2.09,-10.4,1.65,-5.8,1.4,1.1,1.36,5.7,1.2,11.5,1.3,18.4,1,24.2,1.26,27.6,1.6,33.4,1.45,38,1.3,43.8,1.06,55.3,.97,68,1.06,72.6,.43,75.5,0]],
[17,[-26,0,-20.8,.53,-16.2,1,-10.4,1,-2.3,.82,2.3,.82,9.2,.72,17.3,.62,25.3,.53,35.7,.82,42.6,.62,53,.53,64.6,.77,70.9,.53,73.8,0]],
[18,[-22,0,-17.9,.43,-15,.53,-10.4,.33,0,.43,8,.23,12.6,.43,17.3,.38,21.9,0]],
[18,[23,0,30,.33,36.3,.48,43.8,.19,47.3,.19,55.3,.04,64.6,.33,69.7,0]]
];

const monthContours = [januaryContours, aprilContours, julyContours, octoberContours];
const panelNames = ['january','april','july','october'];
const lineLevels = [3,6,9,12,15];

const NS = 'http://www.w3.org/2000/svg';
const fig = document.getElementById('figure');
const PLOT_W = 617.5, PLOT_TOP = 80, PLOT_BOTTOM = 763, PANEL_STEP = 742.5, FIRST_LEFT = 134;

function add(parent, tag, attrs, text){
  const el = document.createElementNS(NS, tag);
  for (const k in attrs) el.setAttribute(k, attrs[k]);
  if (text !== undefined) el.textContent = text;
  parent.appendChild(el);
  return el;
}
function lineColor(level){
  if (level === 0) return 'rgba(14,24,44,0.8)';
  if (level === 3 || level === 9) return 'rgba(70,70,70,0.12)';
  return 'rgba(90,90,90,0.3)';
}

monthContours.forEach(function(contours, p){
  const left = FIRST_LEFT + PANEL_STEP * p;
  const xOf = function(lat){ return left + (lat + 90) / 180 * PLOT_W; };
  const yOf = function(alt){ return PLOT_BOTTOM - alt / 20 * (PLOT_BOTTOM - PLOT_TOP); };
  const g = add(fig, 'g', {});
  
  

  const defs = add(g, 'defs', {});
  const clip = add(defs, 'clipPath', {id: 'clip' + p});
  add(clip, 'rect', {x: left, y: PLOT_TOP, width: xOf(dataRightLat[p]) - left, height: PLOT_BOTTOM - PLOT_TOP});

  const clipped = add(g, 'g', {'clip-path': 'url(#clip' + p + ')'});
  const plot = add(clipped, 'g', {style: 'filter:blur(0.7px)'});
  
  
  const bg = add(plot, 'rect', {x: left - 6, y: PLOT_TOP - 6, width: PLOT_W + 12, height: PLOT_BOTTOM - PLOT_TOP + 12, fill: levelColors[0]});
  
  

  contours.forEach(function(entry){
    const level = entry[0], pts = entry[1], lineFlag = entry[2];
    const coords = [];
    for (let i = 0; i < pts.length; i += 2) coords.push(xOf(pts[i]).toFixed(1) + ',' + yOf(pts[i+1]).toFixed(1));
    const firstLat = pts[0], lastLat = pts[pts.length - 2];
    const groundY = (yOf(0) + 6).toFixed(1);
    if (level > 0) {
      const fillPts = [xOf(firstLat).toFixed(1) + ',' + groundY].concat(coords, [xOf(lastLat).toFixed(1) + ',' + groundY]);
      const isLoop = pts[0] === pts[pts.length - 2] && pts[1] === pts[pts.length - 1];
      const shape = add(plot, 'polygon', {points: (isLoop ? coords : fillPts).join(' '), fill: levelColors[level], stroke: levelColors[level], 'stroke-width': 0.6});
      
      
    }
    const hasLine = lineFlag !== undefined ? lineFlag === 1 : (level === 0 || lineLevels.indexOf(level) >= 0);
    if (hasLine) {
      const line = add(plot, 'polyline', {points: coords.join(' '), fill: 'none', stroke: lineColor(level), 'stroke-width': 1.4});
      
      
    }
  });

  latTicks.slice(1, -1).forEach(function(lat){
    const grid = add(clipped, 'line', {x1: xOf(lat), x2: xOf(lat), y1: PLOT_TOP, y2: PLOT_BOTTOM, stroke: 'rgba(205,215,235,0.09)', 'stroke-width': 1.4, 'stroke-dasharray': '6 3'});
    
    
  });
  altTicks.slice(1, -1).forEach(function(alt){
    const grid = add(clipped, 'line', {x1: left, x2: left + PLOT_W, y1: yOf(alt), y2: yOf(alt), stroke: 'rgba(205,215,235,0.09)', 'stroke-width': 1.4, 'stroke-dasharray': '6 3'});
    
    
  });

  const frame = add(g, 'rect', {x: left, y: PLOT_TOP, width: PLOT_W, height: PLOT_BOTTOM - PLOT_TOP, fill: 'none', stroke: '#000', 'stroke-width': 1.7});
  
  

  latTicks.forEach(function(lat, i){
    const tick = add(g, 'line', {x1: xOf(lat), x2: xOf(lat), y1: PLOT_BOTTOM, y2: PLOT_BOTTOM + 8, stroke: '#000', 'stroke-width': 1.7});
    
    
    const label = add(g, 'text', {x: xOf(lat), y: 805, 'text-anchor': 'middle', 'font-size': 31}, latLabels[i]);
    
    
  });
  altTicks.forEach(function(alt, i){
    const tick = add(g, 'line', {x1: left - 8, x2: left, y1: yOf(alt), y2: yOf(alt), stroke: '#000', 'stroke-width': 1.7});
    
    
    const label = add(g, 'text', {x: left - 16, y: yOf(alt) + 8, 'text-anchor': 'end', 'font-size': 23}, altLabels[i]);
    
    
  });

  const xTitle = add(g, 'text', {x: left + PLOT_W / 2, y: 845, 'text-anchor': 'middle', 'font-size': 32}, 'Latitude');
  
  
  const title = add(g, 'text', {x: left + PLOT_W / 2, y: 56, 'text-anchor': 'middle', 'font-size': 37.5, 'font-weight': 'bold'}, panelTitles[p]);
  
  
  if (p === 0) {
    const yTitle = add(g, 'text', {x: 0, y: 0, transform: 'translate(49 421.5) rotate(-90)', 'text-anchor': 'middle', 'font-size': 32.5}, 'Altitude (km)');
    
    
  }
});

/* colour bar */
const BAR_L = 3103.5, BAR_R = 3134.5, BAR_TIP_TOP = 80, BAR_TOP = 109, BAR_BOTTOM = 734, BAR_TIP_BOTTOM = 763;
const barY = function(i){ return BAR_BOTTOM - i / (barLevelCount - 1) * (BAR_BOTTOM - BAR_TOP); };
const bar = add(fig, 'g', {});


const barMid = (BAR_L + BAR_R) / 2;
const tipTop = add(bar, 'polygon', {points: BAR_L + ',' + BAR_TOP + ' ' + barMid + ',' + BAR_TIP_TOP + ' ' + BAR_R + ',' + BAR_TOP, fill: levelColors[18]});


const tipBottom = add(bar, 'polygon', {points: BAR_L + ',' + BAR_BOTTOM + ' ' + barMid + ',' + BAR_TIP_BOTTOM + ' ' + BAR_R + ',' + BAR_BOTTOM, fill: levelColors[0]});


levelColors.forEach(function(color, i){
  const seg = add(bar, 'rect', {x: BAR_L, y: barY(i + 1), width: BAR_R - BAR_L, height: barY(i) - barY(i + 1) + 0.4, fill: color});
  
  
});
const outline = add(bar, 'polygon', {points: [BAR_L + ',' + BAR_TOP, barMid + ',' + BAR_TIP_TOP, BAR_R + ',' + BAR_TOP, BAR_R + ',' + BAR_BOTTOM, barMid + ',' + BAR_TIP_BOTTOM, BAR_L + ',' + BAR_BOTTOM].join(' '), fill: 'none', stroke: '#000', 'stroke-width': 1.7});


for (let i = 0; i < barLevelCount; i++) {
  const major = barLabelIndex.indexOf(i) >= 0;
  const tick = add(bar, 'line', {x1: BAR_R, x2: BAR_R + (major ? 9.5 : 7), y1: barY(i), y2: barY(i), stroke: '#000', 'stroke-width': 1.3});
  
  
}
barLabelIndex.forEach(function(idx, i){
  const label = add(bar, 'text', {x: 3154, y: barY(idx) + 8, 'font-size': 21.3}, barLabels[i]);
  
  
  if (idx === barLevelCount - 1) add(label, 'tspan', {dy: -8, 'font-size': 15}, '3');
});
const unit = add(bar, 'text', {x: 0, y: 0, transform: 'translate(3265 421) rotate(90)', 'text-anchor': 'middle', 'font-size': 30}, 'pptv');


</script>
</body>
</html>
